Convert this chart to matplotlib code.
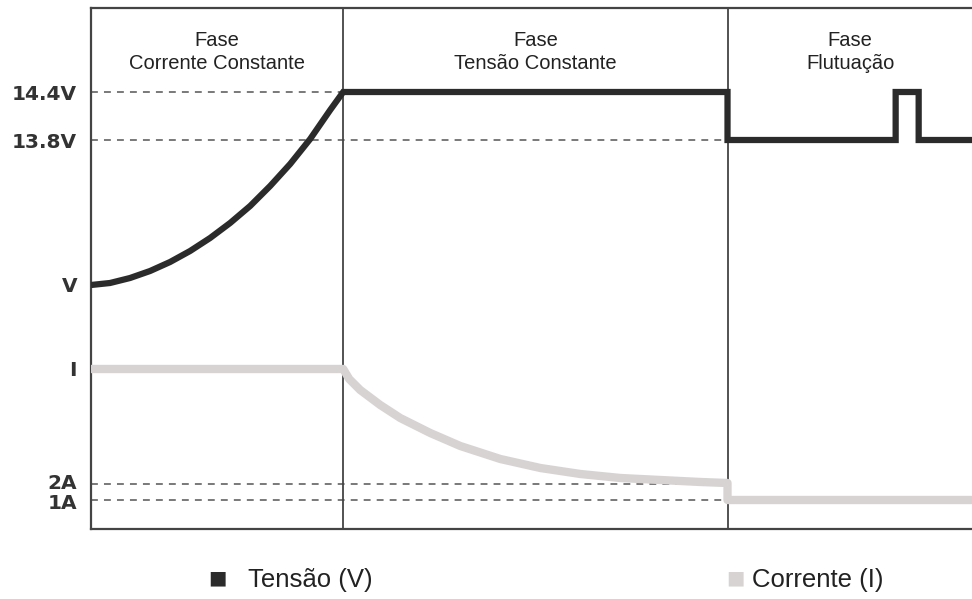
import matplotlib.pyplot as plt
import matplotlib.transforms as mtransforms

# eixo de tempo (unidades arbitrárias) e níveis (unidades arbitrárias)
fase_limites = [252, 636]
fase_titulos = ['Fase\nCorrente Constante', 'Fase\nTensão Constante', 'Fase\nFlutuação']

niveis = [437, 389, 244, 160, 45, 29]
niveis_rotulos = ['14.4V', '13.8V', 'V', 'I', '2A', '1A']

# tensão
tensao_x = [0, 19, 39, 59, 79, 99, 119, 139, 159, 179, 199, 219, 239, 252,
            636, 636, 804, 804, 827, 827, 881]
tensao_y = [244, 246, 251, 258, 267, 278, 291, 306, 323, 343, 365, 390, 419, 437,
            437, 389, 389, 437, 437, 389, 389]

# corrente
corrente_x = [0, 252, 258, 269, 289, 309, 339, 369, 409, 449, 489, 529, 569, 609, 636, 636, 881]
corrente_y = [160, 160, 150, 139, 124, 111, 96, 83, 70, 61, 55, 51, 49, 47, 46, 29, 29]

fig = plt.figure(figsize=(9.72, 5.99), dpi=100)
ax = fig.add_axes([91 / 972, 70 / 599, 1 - 91 / 972 + 0.01, 521 / 599])
ax.set_xlim(0, 890)
ax.set_ylim(0, 521)

# linhas tracejadas de referência
fim_tracejado = [fase_limites[0], fase_limites[1], None, None, fase_limites[1], fase_limites[1]]
for y, fim in zip(niveis, fim_tracejado):
    if fim is not None:
        ax.plot([0, fim], [y, y], ls=(0, (4.5, 4)), color='#555555', lw=1.1, zorder=1)

for xb in fase_limites:
    ax.axvline(xb, color='#444444', lw=1.3, zorder=2)

ax.plot(corrente_x, corrente_y, color='#d7d3d3', lw=6, solid_joinstyle='round',
        solid_capstyle='butt', zorder=3)
ax.plot(tensao_x, tensao_y, color='#2b2b2b', lw=4.5, solid_joinstyle='miter',
        solid_capstyle='butt', zorder=4)

# títulos das fases
centros = [fase_limites[0] / 2, sum(fase_limites) / 2, (fase_limites[1] + 881) / 2]
for cx, t in zip(centros, fase_titulos):
    ax.text(cx, 498, t, ha='center', va='top', fontsize=14.5, color='#222222',
            family='Liberation Sans', linespacing=1.25)

ax.set_yticks(niveis)
ax.set_yticklabels(niveis_rotulos, fontsize=14.5, fontweight='bold', color='#333333')
ax.tick_params(axis='y', length=0, pad=10)
ax.set_xticks([])

# 2A e 1A ficam colados, afasta um pouco
labels = ax.get_yticklabels()
labels[4].set_transform(labels[4].get_transform() +
                        mtransforms.ScaledTranslation(0, 2.5 / 100, fig.dpi_scale_trans))
labels[5].set_transform(labels[5].get_transform() +
                        mtransforms.ScaledTranslation(0, -1.5 / 100, fig.dpi_scale_trans))

for s in ['left', 'top', 'bottom']:
    ax.spines[s].set_color('#444444')
    ax.spines[s].set_linewidth(1.6)
ax.spines['right'].set_visible(False)

# legenda
ly = 1 - 580 / 599
fig.text(217 / 972, 1 - 578 / 599, '■', fontsize=14, color='#2b2b2b', ha='center', va='center')
fig.text(248 / 972, ly, 'Tensão (V)', fontsize=18.5, color='#222222', va='center',
         family='Liberation Sans')
fig.text(735 / 972, 1 - 578 / 599, '■', fontsize=14, color='#d7d3d3', ha='center', va='center')
fig.text(752 / 972, ly, 'Corrente (I)', fontsize=18.5, color='#222222', va='center',
         family='Liberation Sans')

fig.savefig('out.png', dpi=100)
